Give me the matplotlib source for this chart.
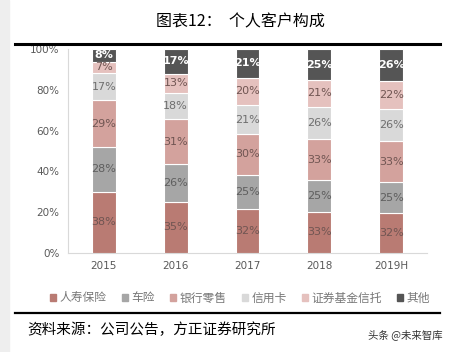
import numpy as np
import matplotlib.pyplot as plt
from matplotlib.patches import Rectangle
from matplotlib.lines import Line2D

plt.rcParams['font.family'] = ['Noto Sans CJK SC', 'DejaVu Sans']

# categories and raw shares (labels show raw values, bars are 100% stacked)
years = ['2015', '2016', '2017', '2018', '2019H']
series_names = ['人寿保险', '车险', '银行零售', '信用卡', '证券基金信托', '其他']
life = [38, 35, 32, 33, 32]
auto = [28, 26, 25, 25, 25]
bank = [29, 31, 30, 33, 33]
card = [17, 18, 21, 26, 26]
secu = [7, 13, 20, 21, 22]
other = [8, 17, 21, 25, 26]

series = [life, auto, bank, card, secu, other]
colors = ['#B97B73', '#A6A6A6', '#D3A29D', '#D9D9D9', '#E5C1BE', '#555555']
text_colors = ['#705552', '#5E5E5E', '#705552', '#6E6E6E', '#705552', 'white']

fig = plt.figure(figsize=(4.53, 3.52), dpi=100)
W, H = 453, 352
# light page-edge strip on the left
fig.add_artist(Rectangle((0, 0), 9 / W, 1, transform=fig.transFigure, color='#EEEEEE', zorder=0))
ax = fig.add_axes([68 / W, 1 - 253 / H, (427 - 68) / W, (253 - 49) / H])

data = np.array(series, dtype=float)
totals = data.sum(axis=0)
norm = data / totals
x = np.arange(len(years))
bottom = np.zeros(len(years))
for i, (vals, c) in enumerate(zip(norm, colors)):
    ax.bar(x, vals, 0.33, bottom=bottom, color=c, edgecolor='white', linewidth=0.8, zorder=3)
    for j in range(len(years)):
        ax.text(x[j], bottom[j] + vals[j] / 2, f'{int(data[i, j])}%', ha='center', va='center',
                fontsize=8, color=text_colors[i],
                fontweight='bold' if i == 5 else 'normal', family='DejaVu Sans', zorder=4)
    bottom += vals

ax.set_xlim(-0.5, 4.5)
ax.set_ylim(0, 1)
ax.set_yticks(np.arange(0, 1.01, 0.2))
ax.set_yticklabels([f'{int(v * 100)}%' for v in np.arange(0, 1.01, 0.2)], family='DejaVu Sans')
ax.set_xticks(x)
ax.set_xticklabels(years, family='DejaVu Sans')
ax.tick_params(axis='both', length=0, labelsize=7.5, colors='#595959', pad=6)
for s in ['top', 'right']:
    ax.spines[s].set_visible(False)
ax.spines['left'].set_color('#D9D9D9')
ax.spines['bottom'].set_color('#D9D9D9')

# legend
handles = [Rectangle((0, 0), 1, 1, color=c) for c in colors]
fig.legend(handles, series_names, loc='center', bbox_to_anchor=(240 / W, 1 - 298 / H),
           ncol=6, frameon=False, fontsize=8.5, handlelength=0.5, handleheight=0.5,
           handletextpad=0.3, columnspacing=1.3, labelcolor='#777777')

# title and rules
fig.text(240 / W, 1 - 22 / H, '图表12：  个人客户构成', ha='center', va='center', fontsize=11.5, color='black')
fig.add_artist(Line2D([15 / W, 440 / W], [1 - 44 / H] * 2, color='black', lw=2.2))
fig.add_artist(Line2D([15 / W, 440 / W], [1 - 313 / H] * 2, color='black', lw=1.6))
fig.text(27 / W, 1 - 330 / H, '资料来源：公司公告，方正证券研究所', ha='left', va='center',
         fontsize=10.5, style='italic', color='black')
fig.text(443 / W, 1 - 335 / H, '头条 @未来智库', ha='right', va='center', fontsize=7.5, color='#333333')

fig.savefig('out.png', dpi=100)
